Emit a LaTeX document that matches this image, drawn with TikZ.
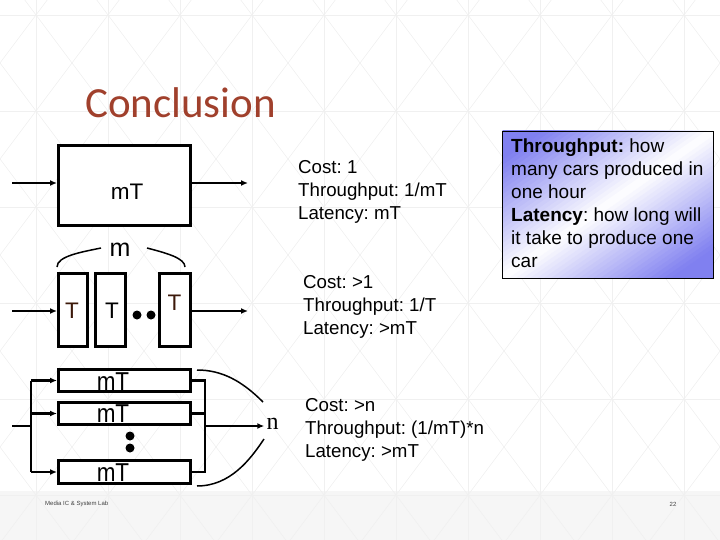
\documentclass[tikz,border=0pt]{standalone}
\usepackage{fontspec}
\setmainfont{Liberation Sans}
\newfontfamily\titlefont{Carlito}
\newfontfamily\serifletter{Liberation Serif}
\usetikzlibrary{arrows.meta,positioning}
\definecolor{titlered}{RGB}{160,64,44}
\definecolor{shadeblue}{RGB}{128,128,240}
\definecolor{footgray}{RGB}{246,246,246}
\definecolor{gridgray}{RGB}{240,240,240}
\tikzset{
  grid line/.style={draw=gridgray,line width=0.6pt},
  stage/.style={draw,line width=3pt,fill=white,inner sep=0pt},
  feed/.style={line width=1.5pt,-{Latex[length=7pt,width=6pt]}},
  wire/.style={line width=2.5pt},
  branch/.style={wire,-{Latex[length=7pt,width=6pt]}},
  bracket/.style={line width=1.5pt},
  boxlabel/.style={font=\fontsize{22.5}{22.5}\selectfont,inner sep=0pt},
  stat/.style={font=\fontsize{18.7}{23}\selectfont,align=left,anchor=north west,inner sep=0pt}
}
\newcommand{\stagebox}[4]% name, center, width, height
{\node[stage,minimum width=#3,minimum height=#4] (#1) at (#2) {};
}
\frenchspacing

\begin{document}
\begin{tikzpicture}[x=1pt,y=-1pt]
\useasboundingbox (0,0) rectangle (720,540);

% slide background
\fill[footgray] (0,491) rectangle (720,540);
\begin{scope}
\clip (0,0) rectangle (720,540);
\foreach \gx in {36,108,...,684} \draw[grid line] (\gx,0) -- (\gx,540);
\foreach \gy in {15,111,...,495} \draw[grid line] (0,\gy) -- (720,\gy);
\foreach \gk in {-8,...,15} {
  \draw[grid line] (36+72*\gk,15) ++(-72,-96) -- ++(720,960);
  \draw[grid line] (36+72*\gk,15) ++(72,-96) -- ++(-720,960);
}
\end{scope}

\node[font=\titlefont\fontsize{43}{43}\selectfont,text=titlered,anchor=base west,inner sep=0pt] (title) at (85,118) {Conclusion};

% single stage
\stagebox{topbox}{124.5,185.5}{132}{80}
\node[boxlabel] (toplabel) at (127,192) {mT};
\coordinate (in1) at (12,183);
\coordinate (out1) at (248,183);
\draw[feed] (in1) -- (in1 -| topbox.west);
\draw[feed] (in1 -| topbox.east) -- (out1);

% pipeline
\stagebox{pipe1}{73,310}{29}{73}
\stagebox{pipe2}{110.5,310}{30}{73}
\stagebox{pipe3}{175,310}{31}{73}
\node[boxlabel,text={rgb,255:red,60;green,25;blue,10}] (t1) at (72,311) {T};
\node[boxlabel] (t2) at (112,311) {T};
\node[boxlabel,text={rgb,255:red,60;green,25;blue,10}] (t3) at (174.5,303) {T};
\fill (137,315) circle (4.5) (151,315) circle (4.5);
\coordinate (in2) at (12,311);
\coordinate (out2) at (248,311);
\draw[feed] (in2) -- (in2 -| pipe1.west);
\draw[feed] (in2 -| pipe3.east) -- (out2);
\node[font=\fontsize{25}{25}\selectfont,inner sep=0pt] (mlabel) at (120,250) {m};
\draw[bracket] (57,267) .. controls (57,256) and (82,252) .. (101,248);
\draw[bracket] (147,248) .. controls (166,253) and (185,258) .. (185,267);

% parallel stages
\stagebox{par1}{124.5,380.5}{132}{22}
\stagebox{par2}{124.5,413.5}{132}{22}
\stagebox{par3}{124.5,472}{132}{23}
\node[boxlabel] (p1) at (113,382) {\scalebox{1}[1.15]{mT}};
\node[boxlabel] (p2) at (113,414) {\scalebox{1}[1.15]{mT}};
\node[boxlabel] (p3) at (113,472.5) {\scalebox{1}[1.15]{mT}};
\fill (130,436) circle (4.5) (130,448) circle (4.5);
\coordinate (src) at (12,426);
\coordinate (split) at (31,426);
\coordinate (join) at (205,426);
\node[font=\serifletter\fontsize{24}{24}\selectfont,inner sep=2pt] (nlabel) at (272.5,424) {n};
\draw[wire] (src) -- (split);
\draw[wire] (split |- par1) -- (split |- par3);
\draw[branch] (split |- par1) -- (par1.west);
\draw[branch] (split |- par2) -- (par2.west);
\draw[branch] (split |- par3) -- (par3.west);
\draw[wire] (par1.east) -- (par1.east -| join) -- (par3.east -| join) -- (par3.east);
\draw[wire] (par2.east) -- (par2.east -| join);
\draw[feed] (join) -- (join -| nlabel.west);
\draw[bracket] (197,370) .. controls (222,370) and (242,381) .. (263,402);
\draw[bracket] (264,439) .. controls (250,460) and (230,486) .. (197,486);

% figures of merit
\node[stat] (stat1) at (298,160) {Cost: 1\\Throughput: 1/mT\\Latency: mT};
\node[stat] (stat2) at (303,275) {Cost: >1\\Throughput: 1/T\\Latency: >mT};
\node[stat] (stat3) at (305,398) {Cost: >n\\Throughput: (1/mT)*n\\Latency: >mT};

% definitions, diagonal blue-white-blue gradient
\begin{scope}
\clip (502,131) rectangle (713,278);
\begin{scope}[shift={(502,131)},x=211pt,y=-147pt]
\foreach \gs in {0,1,...,59} {
  \pgfmathsetmacro{\sa}{\gs/30}
  \pgfmathsetmacro{\sb}{(\gs+1.3)/30}
  \pgfmathsetmacro{\tint}{min(100,abs(1-(\gs+0.5)/30)*125)}
  \fill[shadeblue!\tint!white] (\sa+1,-1) -- (\sa-2,2) -- (\sb-2,2) -- (\sb+1,-1) -- cycle;
}
\end{scope}
\end{scope}
\draw[line width=0.8pt] (502,131) rectangle (713,278);
\node[stat,font=\fontsize{19}{23}\selectfont] (defs) at (511,139)
  {\textbf{Throughput:} how\\many cars produced in\\one hour\\\textbf{Latency}: how long will\\it take to produce one\\car};

% footer
\node[font=\fontsize{6}{6}\selectfont,text=black!75,anchor=west,inner sep=0pt] (foot) at (45,504) {Media IC \& System Lab};
\node[font=\fontsize{6}{6}\selectfont,text=black!75,inner sep=0pt] (page) at (673,504) {22};
\end{tikzpicture}
\end{document}
